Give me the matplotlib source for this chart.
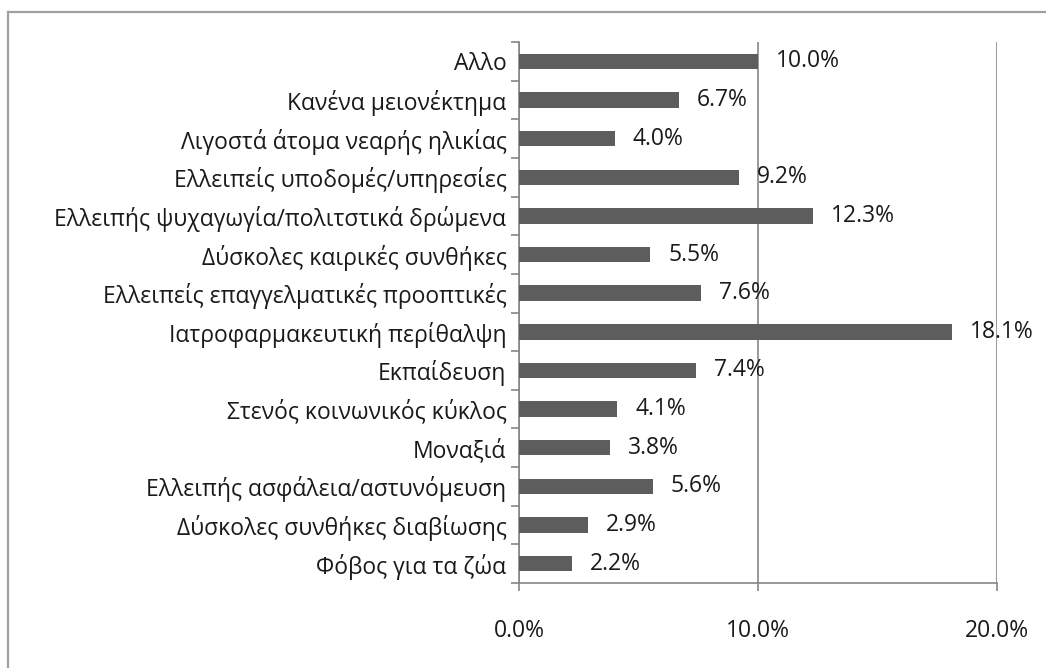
import matplotlib

matplotlib.use("Agg")
import matplotlib.pyplot as plt
from matplotlib.lines import Line2D
from matplotlib.ticker import FixedLocator
import numpy as np

# categories listed bottom -> top, as drawn
CATEGORIES = [
    "Φόβος για τα ζώα",
    "Δύσκολες συνθήκες διαβίωσης",
    "Ελλειπής ασφάλεια/αστυνόμευση",
    "Μοναξιά",
    "Στενός κοινωνικός κύκλος",
    "Εκπαίδευση",
    "Ιατροφαρμακευτική περίθαλψη",
    "Ελλειπείς επαγγελματικές προοπτικές",
    "Δύσκολες καιρικές συνθήκες",
    "Ελλειπής ψυχαγωγία/πολιτστικά δρώμενα",
    "Ελλειπείς υποδομές/υπηρεσίες",
    "Λιγοστά άτομα νεαρής ηλικίας",
    "Κανένα μειονέκτημα",
    "Αλλο",
]
VALUES = [2.2, 2.9, 5.6, 3.8, 4.1, 7.4, 18.1, 7.6, 5.5, 12.3, 9.2, 4.0, 6.7, 10.0]
X_TICKS = [0, 10, 20]

BAR = "#5d5d5d"
LINE = "#868686"
FS = 16.5

plt.rcParams["font.family"] = ["Open Sans", "DejaVu Sans"]

fig = plt.figure(figsize=(10.46, 6.68), dpi=100)
ax = fig.add_axes([519 / 1046, 1 - 583 / 668, (997 - 519) / 1046, (583 - 42) / 668])

y = np.arange(len(CATEGORIES))
ax.barh(y, VALUES, height=0.4, color=BAR, zorder=3)
for yi, v in zip(y, VALUES):
    ax.annotate(f"{v:.1f}%", xy=(v, yi), xytext=(13, 0), textcoords="offset points",
                ha="left", va="center", fontsize=FS, color="#1a1a1a", zorder=4)

ax.set_xlim(0, 20)
ax.set_ylim(-0.5, len(CATEGORIES) - 0.5)

# category labels at centres, tick marks at the boundaries (Excel style)
ax.yaxis.set_major_locator(FixedLocator(np.arange(-0.5, len(CATEGORIES), 1.0)))
ax.yaxis.set_minor_locator(FixedLocator(y))
ax.set_yticklabels([""] * (len(CATEGORIES) + 1))
ax.set_yticklabels(CATEGORIES, minor=True, fontsize=FS, color="#1a1a1a")
ax.tick_params(axis="y", which="major", length=6, color=LINE, width=1.2)
ax.tick_params(axis="y", which="minor", length=0, pad=9)

ax.set_xticks(X_TICKS)
ax.set_xticklabels([f"{t:.1f}%" for t in X_TICKS], fontsize=FS, color="#1a1a1a")
ax.tick_params(axis="x", length=6, color=LINE, width=1.2, pad=20)

ax.grid(axis="x", color=LINE, lw=1.2, zorder=1)
for s in ["top", "right"]:
    ax.spines[s].set_visible(False)
for s in ["left", "bottom"]:
    ax.spines[s].set_color(LINE)
    ax.spines[s].set_linewidth(1.2)

# chart-area border (only top and left are inside the crop)
bx, by = 8 / 1046, 1 - 12 / 668
fig.add_artist(Line2D([bx, 1.0], [by, by], transform=fig.transFigure, color="#a0a0a0", lw=1.6))
fig.add_artist(Line2D([bx, bx], [0.0, by], transform=fig.transFigure, color="#a0a0a0", lw=1.6))

fig.savefig("out.png", dpi=100)
